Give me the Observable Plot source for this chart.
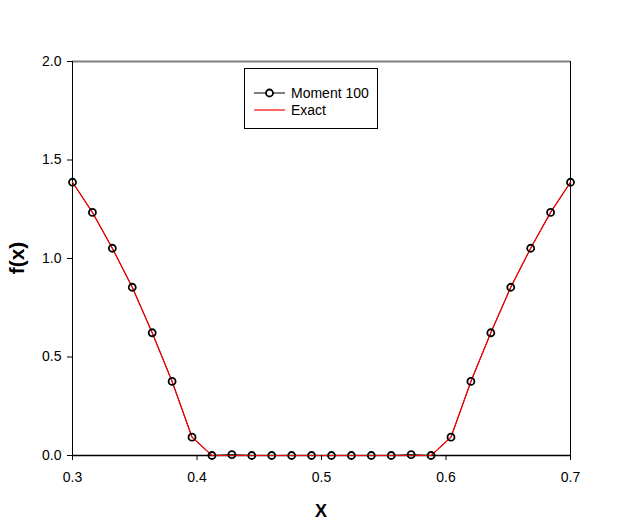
<!DOCTYPE html>
<html>
<head>
<meta charset="utf-8">
<script src="https://cdn.jsdelivr.net/npm/d3@7"></script>
<script src="https://cdn.jsdelivr.net/npm/@observablehq/plot@0.6"></script>
<style>
  html, body { margin: 0; padding: 0; background: #fff; }
  #wrap { position: relative; width: 623px; height: 526px; font-family: "Liberation Sans", Arial, sans-serif; }
  #legend { position: absolute; left: 244px; top: 68px; width: 134px; height: 61px; border: 1px solid #000; background: #fff; box-sizing: border-box; }
</style>
</head>
<body>
<div id="wrap"></div>
<script>
const xValues = [0.300, 0.316, 0.332, 0.348, 0.364, 0.380, 0.396, 0.412, 0.428, 0.444, 0.460, 0.476, 0.492,
                 0.508, 0.524, 0.540, 0.556, 0.572, 0.588, 0.604, 0.620, 0.636, 0.652, 0.668, 0.684, 0.700];
const moment100 = [1.387, 1.234, 1.052, 0.854, 0.623, 0.376, 0.093, 0.000, 0.004, 0.000, 0.000, 0.000, 0.000,
                   0.000, 0.000, 0.000, 0.000, 0.004, 0.000, 0.093, 0.376, 0.623, 0.854, 1.052, 1.234, 1.387];
const exact = [1.387, 1.234, 1.052, 0.854, 0.623, 0.376, 0.093, 0.000, 0.000, 0.000, 0.000, 0.000, 0.000,
               0.000, 0.000, 0.000, 0.000, 0.000, 0.000, 0.093, 0.376, 0.623, 0.854, 1.052, 1.234, 1.387];
const xTicks = [0.3, 0.4, 0.5, 0.6, 0.7];
const yTicks = [0.0, 0.5, 1.0, 1.5, 2.0];
const seriesNames = ["Moment 100", "Exact"];
const xLabel = "X";
const yLabel = "f(x)";

const momentData = xValues.map((x, i) => ({x, y: moment100[i]}));
const exactData = xValues.map((x, i) => ({x, y: exact[i]}));

const chart = Plot.plot({
  width: 623,
  height: 526,
  marginLeft: 72,
  marginRight: 53,
  marginTop: 61,
  marginBottom: 71,
  style: {fontFamily: "'Liberation Sans', Arial, sans-serif", fontSize: "14px", color: "#000", background: "#fff"},
  x: {domain: [0.3, 0.7], label: null},
  y: {domain: [0, 2], label: null},
  marks: [
    Plot.ruleY([2], {stroke: "#808080", strokeWidth: 2}),
    Plot.ruleX([0.7], {stroke: "#000", strokeWidth: 1}),
    Plot.ruleX([0.3], {stroke: "#000", strokeWidth: 1}),
    Plot.ruleY([0], {stroke: "#000", strokeWidth: 1.5}),
    Plot.line(momentData, {x: "x", y: "y", stroke: "#000", strokeWidth: 1}),
    Plot.line(exactData, {x: "x", y: "y", stroke: "#ff0000", strokeWidth: 1.2}),
    Plot.dot(momentData, {x: "x", y: "y", r: 3.5, stroke: "#000", strokeWidth: 1.8, fill: "none"}),
    Plot.axisX({ticks: xTicks, tickFormat: d3.format(".1f"), tickSize: 5, tickPadding: 12, label: null, fontSize: 14}),
    Plot.axisY({ticks: yTicks, tickFormat: d3.format(".1f"), tickSize: 5, tickPadding: 6, label: null, fontSize: 14})
  ]
});

const wrap = document.getElementById("wrap");
wrap.appendChild(chart);

const svg = d3.select(chart);
svg.append("text")
  .attr("x", 321).attr("y", 517)
  .attr("text-anchor", "middle")
  .attr("font-weight", "bold").attr("font-size", 18)
  .attr("font-family", "'Liberation Sans', Arial, sans-serif")
  .attr("fill", "#000")
  .text(xLabel);
svg.append("text")
  .attr("transform", "translate(24,258) rotate(-90)")
  .attr("text-anchor", "middle")
  .attr("font-weight", "bold").attr("font-size", 21)
  .attr("font-family", "'Liberation Sans', Arial, sans-serif")
  .attr("fill", "#000")
  .text(yLabel);

// legend
const legend = document.createElement("div");
legend.id = "legend";
wrap.appendChild(legend);
const lsvg = d3.select(legend).append("svg").attr("width", 132).attr("height", 59)
  .style("position", "absolute").style("left", "0px").style("top", "0px");
lsvg.append("line").attr("x1", 9).attr("x2", 40).attr("y1", 24).attr("y2", 24).attr("stroke", "#000").attr("stroke-width", 1);
lsvg.append("circle").attr("cx", 24.5).attr("cy", 24).attr("r", 3.5).attr("fill", "#fff").attr("stroke", "#000").attr("stroke-width", 1.8);
lsvg.append("line").attr("x1", 9).attr("x2", 40).attr("y1", 41).attr("y2", 41).attr("stroke", "#ff0000").attr("stroke-width", 1.2);
seriesNames.forEach((name, i) => {
  lsvg.append("text").attr("x", 46).attr("y", 29 + i * 17)
    .attr("font-size", 14).attr("font-family", "'Liberation Sans', Arial, sans-serif")
    .attr("fill", "#000").text(name);
});
</script>
</body>
</html>
